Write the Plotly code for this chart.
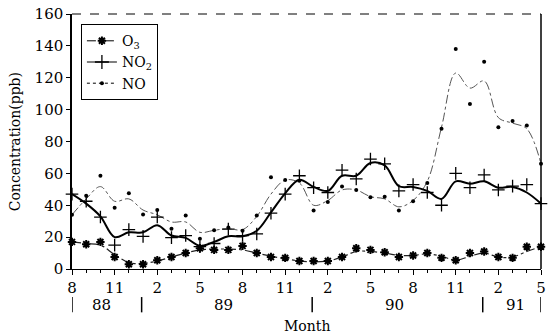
import plotly.graph_objects as go

# ---- data (monthly, Aug 1988 .. May 1991) ----
month_numbers = [8, 9, 10, 11, 12, 1, 2, 3, 4, 5, 6, 7,
                 8, 9, 10, 11, 12, 1, 2, 3, 4, 5, 6, 7,
                 8, 9, 10, 11, 12, 1, 2, 3, 4, 5]
labeled_months = [8, 11, 2, 5]

o3_points = [17, 15.5, 17, 7.5, 3, 3, 5.5, 7.5, 10, 13, 12, 12,
             14.5, 10, 7.5, 7, 5, 5, 5, 7.5, 13, 12, 10.5, 7.5,
             8.5, 10, 7, 5.5, 10, 11, 7.5, 7, 14, 14]
o3_curve = [17, 16, 15, 9, 4, 3.5, 5, 7.5, 10, 12, 12.5, 12.5,
            12, 10, 8, 6.5, 5, 4.5, 5, 7.5, 11, 11, 10, 8.5,
            8.5, 9.5, 8, 5.5, 8, 10, 7.5, 7.5, 11, 14]

no2_points = [47, 42.5, 32.6, 15, 24.7, 20.5, 32.6, 19.7, 21, 14, 16, 25,
              21, 22, 35, 47, 58.5, 51, 48, 62, 56.5, 69, 66, 49,
              53, 48, 40, 60, 51, 59, 49.6, 52, 53, 41]
no2_curve = [47, 41, 33, 20, 23, 23, 27.5, 21, 19.5, 14.5, 17, 20.5,
             20.5, 24, 35.5, 47.5, 56, 51.5, 49, 58.5, 58.5, 66.5, 65, 52,
             51.5, 49, 44, 55, 53.5, 55, 51, 51.5, 48, 41]

no_points = [34, 46, 58.5, 38.4, 47.5, 34.2, 37, 25.3, 33.6, 19, 24.3, 26,
             24, 33.6, 57.5, 55.8, 55.4, 36.7, 42, 51.7, 49.6, 45, 45.4, 36.7,
             42.5, 54, 88, 138, 103.5, 130, 89, 92.8, 90, 66]
no_curve = [34, 44, 51.7, 42.5, 44, 37, 34, 29.5, 29.5, 23, 24.3, 25.3,
            24.7, 33, 47, 55.8, 54, 40, 43, 49.6, 49.6, 45.4, 44, 39,
            43, 55, 89, 123, 113.5, 118, 95, 91.5, 88, 66]

year_labels = ["88", "89", "90", "91"]
y_ticks = [0, 20, 40, 60, 80, 100, 120, 140, 160]

# ---- layout constants ----
x_idx = list(range(len(month_numbers)))
year_label_x = [2.1, 10.65, 22.7, 31.2]
year_bound_x = [0, 4.9, 16.9, 28.9, 33]
FONT = "DejaVu Serif"

tick_vals = [i for i, m in zip(x_idx, month_numbers) if m in labeled_months]
tick_text = [str(month_numbers[i]) for i in tick_vals]

fig = go.Figure()

# smoothed curves
fig.add_trace(go.Scatter(x=x_idx, y=no_curve, mode="lines", showlegend=False,
                         line=dict(color="#555", width=1, dash="dashdot", shape="spline", smoothing=1)))
fig.add_trace(go.Scatter(x=x_idx, y=o3_curve, mode="lines", showlegend=False,
                         line=dict(color="#222", width=1.2, dash="dashdot", shape="spline", smoothing=1)))
fig.add_trace(go.Scatter(x=x_idx, y=no2_curve, mode="lines", showlegend=False,
                         line=dict(color="black", width=2, shape="spline", smoothing=1)))

# data points
fig.add_trace(go.Scatter(x=x_idx, y=no_points, mode="markers", showlegend=False, cliponaxis=False,
                         marker=dict(symbol="circle", size=4, color="black")))
fig.add_trace(go.Scatter(x=x_idx, y=no2_points, mode="markers", showlegend=False, cliponaxis=False,
                         marker=dict(symbol="cross-thin", size=9, color="black",
                                     line=dict(color="black", width=1.3))))
fig.add_trace(go.Scatter(x=x_idx, y=o3_points, mode="markers", showlegend=False, cliponaxis=False,
                         marker=dict(symbol="asterisk", size=7, color="black",
                                     line=dict(color="black", width=2))))

# legend entries
fig.add_trace(go.Scatter(x=[None], y=[None], mode="lines+markers", name="O<sub>3</sub>",
                         line=dict(color="black", width=1, dash="dashdot"),
                         marker=dict(symbol="asterisk", size=7, color="black",
                                     line=dict(color="black", width=2))))
fig.add_trace(go.Scatter(x=[None], y=[None], mode="lines+markers", name="NO<sub>2</sub>",
                         line=dict(color="black", width=1.2),
                         marker=dict(symbol="cross-thin", size=10, color="black",
                                     line=dict(color="black", width=1.3))))
fig.add_trace(go.Scatter(x=[None], y=[None], mode="lines+markers", name="NO",
                         line=dict(color="black", width=1, dash="dot"),
                         marker=dict(symbol="circle", size=4, color="black")))

shapes = []
# frame: top dashed, right solid
shapes.append(dict(type="line", xref="paper", yref="paper", x0=0, x1=1, y0=1, y1=1,
                   line=dict(color="black", width=1, dash="dash")))
shapes.append(dict(type="line", xref="paper", yref="paper", x0=1, x1=1, y0=0, y1=1,
                   line=dict(color="black", width=1.5)))
# year separators
for xb in year_bound_x:
    shapes.append(dict(type="line", xref="x", yref="paper", x0=xb, x1=xb, y0=-0.11, y1=-0.17,
                       line=dict(color="black", width=1.5)))

annotations = []
for lab, xp in zip(year_labels, year_label_x):
    annotations.append(dict(x=xp, y=-0.14, xref="x", yref="paper", text=lab, showarrow=False,
                            font=dict(family=FONT, size=15, color="black"), yanchor="middle"))
annotations.append(dict(x=0.5, y=-0.222, xref="paper", yref="paper", text="Month", showarrow=False,
                        font=dict(family=FONT, size=14, color="black"), yanchor="middle"))
annotations.append(dict(x=-0.122, y=0.5, xref="paper", yref="paper", text="Concentration(ppb)",
                        showarrow=False, textangle=-90,
                        font=dict(family=FONT, size=14, color="black"), xanchor="center", yanchor="middle"))

fig.update_layout(
    width=551, height=336,
    margin=dict(l=72, r=5, t=12, b=67),
    paper_bgcolor="white", plot_bgcolor="white",
    font=dict(family=FONT, size=15, color="black"),
    shapes=shapes, annotations=annotations,
    legend=dict(x=0.019, y=0.96, xanchor="left", yanchor="top",
                bordercolor="black", borderwidth=1, bgcolor="white",
                font=dict(family=FONT, size=14, color="black"),
                tracegroupgap=0, itemwidth=30),
)
fig.update_xaxes(range=[0, 33], showgrid=False, zeroline=False,
                 showline=True, linecolor="black", linewidth=1,
                 tickmode="array", tickvals=tick_vals, ticktext=tick_text,
                 ticks="outside", ticklen=5, tickcolor="black",
                 minor=dict(tickvals=x_idx, ticks="outside", ticklen=3, tickcolor="black"),
                 tickfont=dict(family=FONT, size=15))
fig.update_yaxes(range=[0, 160], showgrid=False, zeroline=False,
                 showline=True, linecolor="black", linewidth=1.5,
                 tickmode="array", tickvals=y_ticks,
                 ticks="outside", ticklen=4, tickcolor="black",
                 tickfont=dict(family=FONT, size=15))

fig.write_html("out.html", config={"displayModeBar": False},
               post_script="document.body.style.margin='0';document.body.style.padding='0';")
